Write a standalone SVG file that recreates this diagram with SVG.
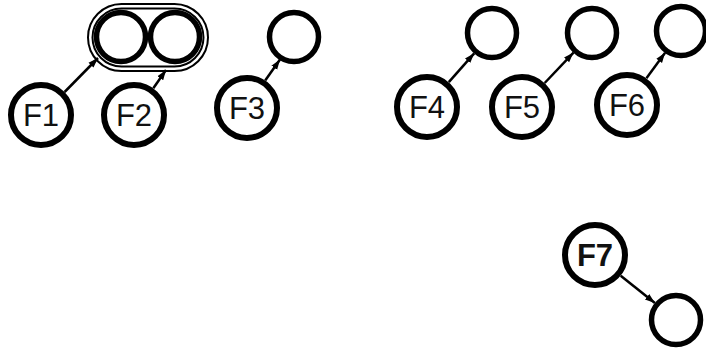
<svg xmlns="http://www.w3.org/2000/svg" width="706" height="352" viewBox="0 0 706 352">
<style>
.f{fill:#fff;stroke:#000;stroke-width:6}
.s{fill:#fff;stroke:#000;stroke-width:5.5}
.cap{fill:none;stroke:#000;stroke-width:2}
.t{font-family:"Liberation Sans",Arial,sans-serif;font-size:31px;text-anchor:middle;fill:#111}
.b{font-weight:bold}
.e{stroke:#000;stroke-width:2.5;fill:none;marker-end:url(#ah)}
</style>
<defs>
<marker id="ah" markerUnits="userSpaceOnUse" markerWidth="12" markerHeight="10" refX="10" refY="4" orient="auto">
<path d="M0,0.5 L10,4 L0,7.5 Z" fill="#000"/>
</marker>
</defs>
<rect width="706" height="352" fill="#fff"/>
<g id="group1">
<rect class="cap" x="88" y="4" width="120" height="67" rx="33.5"/>
<rect class="cap" x="92.5" y="8.5" width="111" height="58" rx="29"/>
</g>
<g id="n1"><circle class="s" cx="121" cy="37" r="24.5"/></g>
<g id="n2"><circle class="s" cx="175" cy="37" r="24.5"/></g>
<g id="n3"><circle class="s" cx="294" cy="37" r="24.5"/></g>
<g id="n4"><circle class="s" cx="492" cy="33" r="24.5"/></g>
<g id="n5"><circle class="s" cx="592" cy="33" r="24.5"/></g>
<g id="n6"><circle class="s" cx="681" cy="31" r="24.5"/></g>
<g id="n7"><circle class="s" cx="676" cy="320" r="24.5"/></g>
<g id="F1"><circle class="f" cx="41" cy="115" r="30"/><text class="t" x="41" y="126">F1</text></g>
<g id="F2"><circle class="f" cx="134" cy="115" r="30"/><text class="t" x="134" y="126">F2</text></g>
<g id="F3"><circle class="f" cx="247" cy="108" r="30"/><text class="t" x="247" y="119">F3</text></g>
<g id="F4"><circle class="f" cx="427" cy="107" r="30"/><text class="t" x="427" y="118">F4</text></g>
<g id="F5"><circle class="f" cx="522" cy="107" r="30"/><text class="t" x="522" y="118">F5</text></g>
<g id="F6"><circle class="f" cx="627" cy="105" r="30"/><text class="t" x="627" y="116">F6</text></g>
<g id="F7"><circle class="f" cx="595" cy="255" r="30"/><text class="t b" x="595" y="266">F7</text></g>
<g id="connectors">
<line class="e" x1="64.6" y1="92" x2="98" y2="58"/>
<line class="e" x1="153.3" y1="88.3" x2="166" y2="70"/>
<line class="e" x1="265.2" y1="80.5" x2="280" y2="59.5"/>
<line class="e" x1="448.8" y1="82.2" x2="474.2" y2="53.3"/>
<line class="e" x1="544.7" y1="83" x2="573.5" y2="52.6"/>
<line class="e" x1="646.4" y1="78.3" x2="665.1" y2="52.8"/>
<line class="e" x1="620.7" y1="275.7" x2="654.9" y2="303.1"/>
</g>
</svg>
